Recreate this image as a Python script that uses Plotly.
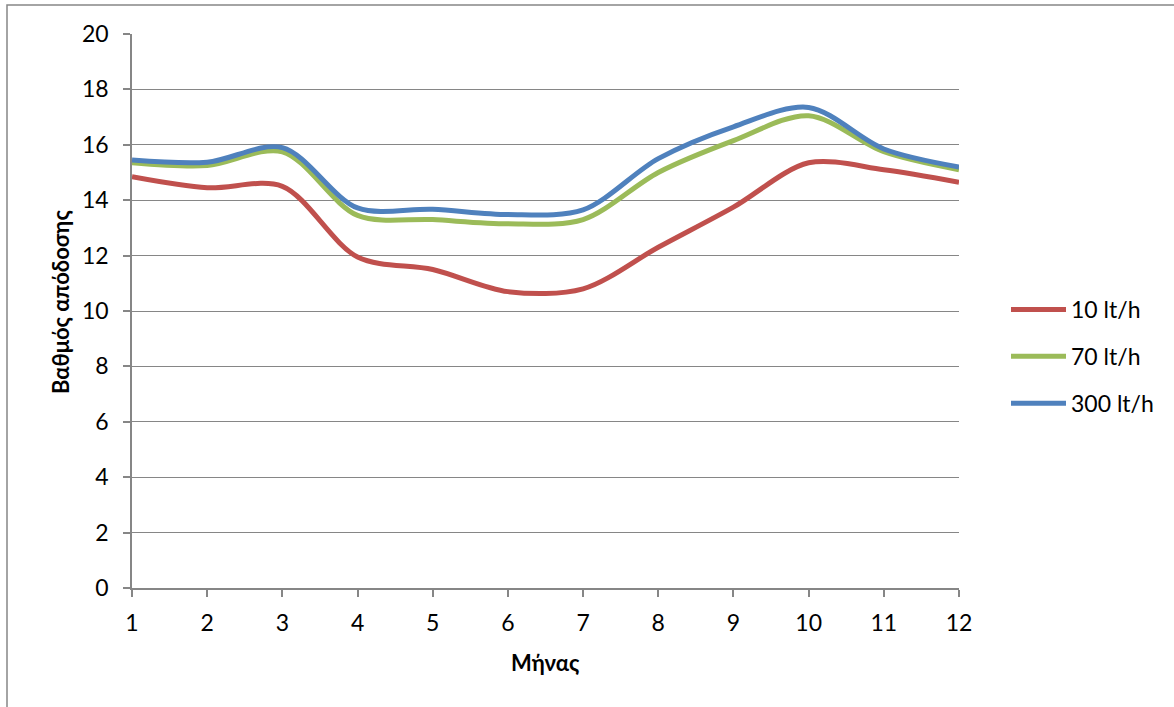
import plotly.graph_objects as go

# Monthly efficiency for three flow rates
months = [1, 2, 3, 4, 5, 6, 7, 8, 9, 10, 11, 12]
eff_10 = [14.85, 14.45, 14.5, 11.95, 11.5, 10.7, 10.8, 12.3, 13.75, 15.35, 15.1, 14.65]
eff_70 = [15.35, 15.25, 15.75, 13.45, 13.3, 13.15, 13.3, 15.0, 16.15, 17.05, 15.75, 15.1]
eff_300 = [15.45, 15.37, 15.9, 13.72, 13.67, 13.48, 13.65, 15.5, 16.65, 17.35, 15.85, 15.2]
series_names = ["10 lt/h", "70 lt/h", "300 lt/h"]
y_ticks = [0, 2, 4, 6, 8, 10, 12, 14, 16, 18, 20]

colors = ["#C0504D", "#9BBB59", "#4F81BD"]
grid = "#868686"
font = "Lato, 'Open Sans', sans-serif"
fs = 23
fs_title = 22

W, H = 1174, 707
L, R, T, B = 132, 959, 34, 588


def px_x(p):
    return (p - L) / (R - L)


def px_y(p):
    return (B - p) / (B - T)


fig = go.Figure()
for name, vals, col in zip(series_names, [eff_10, eff_70, eff_300], colors):
    fig.add_trace(go.Scatter(
        x=months, y=vals, name=name, mode="lines",
        line=dict(color=col, width=5, shape="spline", smoothing=0.9),
        legendgroup=name,
    ))

fig.update_layout(
    width=W, height=H,
    margin=dict(l=L, r=W - R, t=T, b=H - B),
    paper_bgcolor="white", plot_bgcolor="white",
    font=dict(family=font, size=fs, color="black"),
    showlegend=True,
    legend=dict(
        x=px_x(1006), y=px_y(288), xanchor="left", yanchor="top",
        xref="paper", yref="paper",
        font=dict(size=fs, family=font),
        tracegroupgap=14, itemwidth=55,
        bgcolor="rgba(0,0,0,0)",
    ),
    xaxis=dict(
        range=[1, 12], tickvals=months, ticktext=[str(m) for m in months],
        showgrid=False, zeroline=False,
        showline=True, linecolor=grid, linewidth=1.5,
        ticks="outside", ticklen=7, tickcolor=grid, tickwidth=1.5,
        ticklabelstandoff=7,
        tickfont=dict(size=fs, family=font),
    ),
    yaxis=dict(
        range=[0, 20], tickvals=y_ticks,
        showgrid=True, gridcolor=grid, gridwidth=1.3,
        zeroline=False,
        showline=True, linecolor=grid, linewidth=1.5,
        ticks="outside", ticklen=7, tickcolor=grid, tickwidth=1.5,
        ticklabelstandoff=10,
        tickfont=dict(size=fs, family=font),
    ),
    annotations=[
        dict(text="<b>Μήνας</b>", x=px_x(545), y=px_y(662), xref="paper", yref="paper",
             showarrow=False, font=dict(size=fs_title, family=font), xanchor="center", yanchor="middle"),
        dict(text="<b>Βαθμός απόδοσης</b>", x=px_x(60), y=px_y(302), xref="paper", yref="paper",
             showarrow=False, textangle=-90, font=dict(size=fs_title, family=font),
             xanchor="center", yanchor="middle"),
    ],
    shapes=[
        dict(type="rect", xref="paper", yref="paper",
             x0=px_x(7), x1=px_x(1180), y0=px_y(5), y1=px_y(720),
             line=dict(color="#868686", width=1.5), fillcolor="rgba(0,0,0,0)", layer="below"),
    ],
)

fig.write_html("out.html")
